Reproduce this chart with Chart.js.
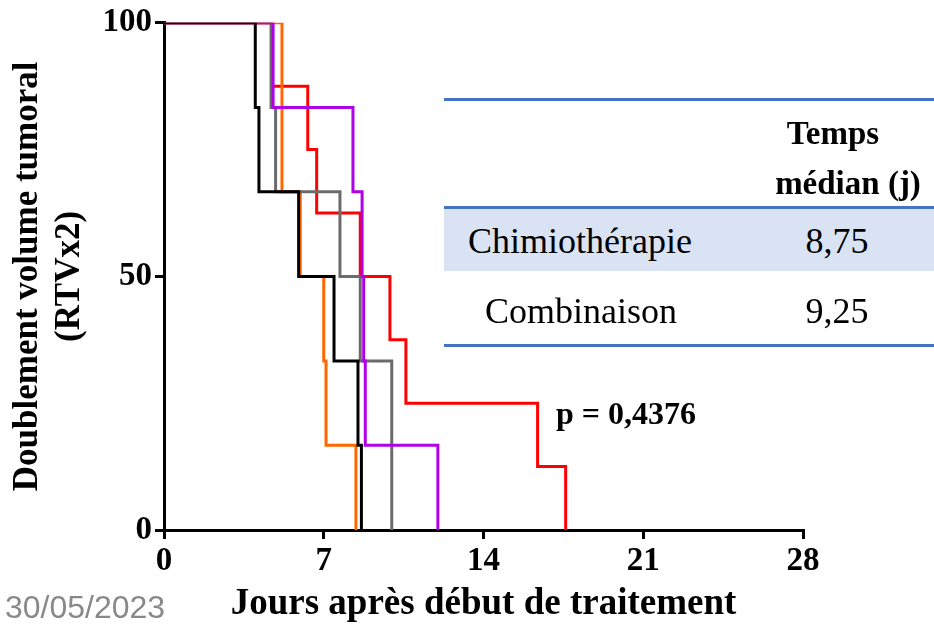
<!DOCTYPE html>
<html lang="fr">
<head>
    <meta charset="UTF-8">
    <title>Doublement volume tumoral</title>
    <script src="https://cdn.jsdelivr.net/npm/chart.js"></script>
    <style>
        body { margin: 0; background: #fff; }
        #wrap { position: relative; width: 934px; height: 627px; overflow: hidden; }
        #chart { position: absolute; left: 0; top: 0; }
        .txt { position: absolute; font-family: "Liberation Serif", "Times New Roman", serif; color: #000; line-height: 1; white-space: nowrap; }
        .b { font-weight: bold; }
        .ctr { text-align: center; width: 200px; }
        .rule { position: absolute; left: 444px; width: 490px; height: 3px; background: #4472c4; }
    </style>
</head>
<body>
<div id="wrap">
    <canvas id="chart" width="934" height="627"></canvas>

    <div class="rule" style="top:98px"></div>
    <div class="txt b ctr" style="left:733px; top:117px; font-size:33px">Temps</div>
    <div class="txt b ctr" style="left:748px; top:167px; font-size:33px">médian (j)</div>
    <div style="position:absolute; left:444px; top:207px; width:490px; height:64px; background:#dae3f3"></div>
    <div class="rule" style="top:206px"></div>
    <div class="txt" style="left:468px; top:223px; font-size:36px">Chimiothérapie</div>
    <div class="txt ctr" style="left:737px; top:223px; font-size:36px">8,75</div>
    <div class="txt" style="left:485px; top:293px; font-size:36px">Combinaison</div>
    <div class="txt ctr" style="left:737px; top:293px; font-size:36px">9,25</div>
    <div class="rule" style="top:344px"></div>

    <div class="txt b" style="left:556px; top:397px; font-size:32px">p = 0,4376</div>
    <div class="txt" style="left:5px; top:591px; font-size:32px; font-family:'Liberation Sans', Arial, sans-serif; color:#898989">30/05/2023</div>
</div>
<script>
    // temps (jours) et survie (%) pour chaque groupe
    const redDays     = [0, 4.75, 6.3, 6.69, 8.6, 9.9, 10.6, 16.37, 17.6];
    const redPct      = [100, 87.5, 75, 62.5, 50, 37.5, 25, 12.5, 0];
    const orangeDays  = [0, 5.17, 5.97, 7.0, 7.1, 8.41];
    const orangePct   = [100, 66.7, 50, 33.3, 16.7, 0];
    const grayDays    = [0, 4.69, 4.89, 7.71, 8.6, 9.98];
    const grayPct     = [100, 83.3, 66.7, 50, 33.3, 0];
    const purpleDays  = [0, 4.78, 8.28, 8.68, 8.75, 8.82, 12.0];
    const purplePct   = [100, 83.3, 66.7, 50, 33.3, 16.7, 0];
    const blackDays   = [0, 4.0, 4.16, 5.9, 7.45, 8.5, 8.65];
    const blackPct    = [100, 83.3, 66.7, 50, 33.3, 16.7, 0];

    const xTicks = [0, 7, 14, 21, 28];
    const yTicks = [0, 50, 100];

    function pts(days, pct) {
        return days.map((d, i) => ({ x: d, y: pct[i] }));
    }

    function serie(days, pct, color) {
        return {
            data: pts(days, pct),
            borderColor: color,
            borderWidth: 3,
            stepped: true,
            pointRadius: 0,
            fill: false
        };
    }

    const axisFont = { family: 'Liberation Serif', weight: 'bold', size: 33 };

    // le premier dataset est dessiné au-dessus
    new Chart(document.getElementById('chart'), {
        type: 'line',
        data: {
            datasets: [
                serie(blackDays, blackPct, '#000000'),
                serie(purpleDays, purplePct, '#b000e6'),
                serie(grayDays, grayPct, '#6b6b6b'),
                serie(orangeDays, orangePct, '#ff6600'),
                serie(redDays, redPct, '#ff0000')
            ]
        },
        options: {
            responsive: false,
            animation: false,
            events: [],
            layout: { padding: { left: 0, top: 19, right: 131, bottom: 0 } },
            plugins: { legend: { display: false }, tooltip: { enabled: false } },
            scales: {
                x: {
                    type: 'linear',
                    min: 0, max: 28,
                    afterBuildTicks: s => { s.ticks = xTicks.map(v => ({ value: v })); },
                    afterFit: s => { s.height = 97; },
                    ticks: { font: axisFont, color: '#000', padding: 3 },
                    grid: { drawOnChartArea: false, drawTicks: true, tickLength: 9, color: '#000', lineWidth: 3 },
                    border: { color: '#000', width: 3 },
                    title: {
                        display: true,
                        text: 'Jours après début de traitement',
                        color: '#000',
                        font: { family: 'Liberation Serif', weight: 'bold', size: 37, lineHeight: 1.2 },
                        padding: { top: 0, bottom: 0 }
                    }
                },
                y: {
                    min: 0, max: 100,
                    afterBuildTicks: s => { s.ticks = yTicks.map(v => ({ value: v })); },
                    afterFit: s => { s.width = 164; },
                    ticks: { font: axisFont, color: '#000', padding: 3 },
                    grid: { drawOnChartArea: false, drawTicks: true, tickLength: 9, color: '#000', lineWidth: 3 },
                    border: { color: '#000', width: 3 },
                    title: {
                        display: true,
                        text: ['Doublement volume tumoral', '(RTVx2)'],
                        color: '#000',
                        font: { family: 'Liberation Serif', weight: 'bold', size: 35, lineHeight: 1.2 },
                        padding: { top: 7, bottom: 0 }
                    }
                }
            }
        }
    });
</script>
</body>
</html>
